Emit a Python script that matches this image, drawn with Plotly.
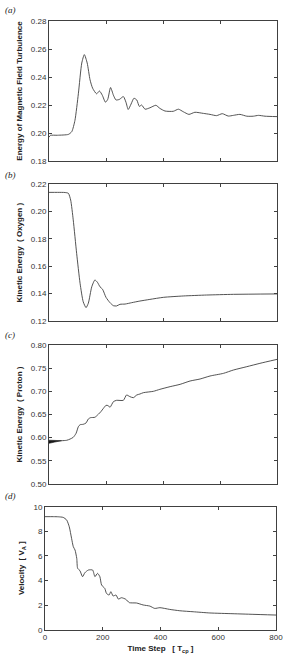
import plotly.graph_objects as go

# ---------------- data ----------------
a_t = [0, 5, 30, 68, 80, 91, 103, 115, 124, 134, 144, 153, 167, 177, 187, 198, 206, 216, 226, 235,
       247, 261, 270, 278, 288, 298, 308, 317, 325, 337, 354, 375, 389, 407, 436, 454, 471, 491,
       512, 542, 565, 588, 608, 629, 647, 670, 694, 717, 735, 758, 800]
a_v = [0.197, 0.1983, 0.1984, 0.199, 0.201, 0.209, 0.228, 0.250, 0.256, 0.250, 0.238, 0.232, 0.228,
       0.230, 0.227, 0.222, 0.224, 0.2325, 0.227, 0.2236, 0.224, 0.226, 0.222, 0.2168, 0.2207,
       0.2248, 0.2236, 0.219, 0.220, 0.217, 0.218, 0.2198, 0.2176, 0.2157, 0.2155, 0.217, 0.2152,
       0.2133, 0.2148, 0.214, 0.2133, 0.2124, 0.2138, 0.2121, 0.2126, 0.2133, 0.212, 0.212,
       0.2126, 0.212, 0.2117]

b_t = [0, 30, 56, 68, 76, 85, 97, 109, 120, 130, 138, 150, 161, 170, 179, 188, 200, 214, 226, 237,
       249, 267, 290, 319, 354, 401, 471, 553, 647, 800]
b_v = [0.2141, 0.2141, 0.2140, 0.2134, 0.2085, 0.194, 0.1695, 0.1476, 0.1341, 0.1298, 0.133, 0.145,
       0.150, 0.1483, 0.145, 0.1432, 0.1373, 0.1334, 0.1312, 0.131, 0.1322, 0.1324, 0.1334,
       0.1346, 0.1358, 0.1373, 0.1383, 0.139, 0.1395, 0.1398]

c_t = [0, 44, 62, 74, 85, 95, 103, 109, 120, 130, 138, 146, 161, 173, 182, 191, 200, 208, 214, 226,
       237, 261, 272, 284, 296, 308, 319, 331, 366, 389, 425, 460, 495, 530, 565, 612, 647, 694,
       740, 800]
c_v = [0.5935, 0.5935, 0.5943, 0.597, 0.6007, 0.6094, 0.6237, 0.628, 0.6288, 0.6317, 0.6403, 0.6432,
       0.644, 0.6504, 0.6561, 0.6633, 0.6698, 0.6691, 0.6655, 0.6777, 0.6806, 0.6806, 0.6921,
       0.6885, 0.6863, 0.6921, 0.6942, 0.6971, 0.700, 0.7043, 0.7101, 0.7151, 0.7223, 0.7266,
       0.7331, 0.7388, 0.746, 0.7532, 0.7604, 0.769]
# dark wedge at the start of panel (c)
c_wedge_t = [0, 20, 44]
c_wedge_hi = [0.5945, 0.5940, 0.5935]
c_wedge_lo = [0.5878, 0.5905, 0.5935]

d_t = [0, 30, 46, 63, 75, 84, 92, 98, 104, 110, 113, 121, 130, 138, 150, 165, 173, 182, 190, 196,
       207, 213, 222, 228, 236, 246, 254, 265, 280, 292, 317, 340, 363, 380, 398, 432, 467, 513,
       571, 651, 720, 800]
d_v = [9.19, 9.19, 9.18, 9.13, 8.92, 8.37, 7.43, 6.75, 6.48, 5.80, 4.99, 4.80, 4.31, 4.63, 4.85,
       4.85, 4.31, 4.58, 4.31, 3.63, 3.36, 2.95, 2.82, 3.09, 2.74, 2.82, 2.49, 2.60, 2.47, 2.20,
       2.17, 2.01, 1.92, 1.73, 1.79, 1.65, 1.54, 1.46, 1.36, 1.30, 1.25, 1.19]

x_ticks = [0, 200, 400, 600, 800]
panel_labels = ["(a)", "(b)", "(c)", "(d)"]
y_titles = ["Energy of Magnetic Field Turbulence", "Kinetic Energy  ( Oxygen )",
            "Kinetic Energy  ( Proton )", "Velocity  [ V<sub>A</sub> ]"]
x_title = "Time Step   [ T<sub>cp</sub> ]"

# ---------------- figure ----------------
W, H = 283, 656
LINE = "#404040"
fig = go.Figure()

def yd(top, bot):
    return [1 - bot / H, 1 - top / H]

panels = [
    dict(t=a_t, v=a_v, rng=[0.18, 0.28], dt=0.02, fmt=".2f", dom=yd(21, 161), xd=[49 / W, 277 / W]),
    dict(t=b_t, v=b_v, rng=[0.12, 0.22], dt=0.02, fmt=".2f", dom=yd(184.3, 321), xd=[49 / W, 277 / W]),
    dict(t=c_t, v=c_v, rng=[0.50, 0.80], dt=0.05, fmt=".2f", dom=yd(345, 484), xd=[49 / W, 277 / W]),
    dict(t=d_t, v=d_v, rng=[0, 10], dt=2, fmt="d", dom=yd(506.7, 629.7), xd=[45 / W, 276 / W]),
]

FONT = "Liberation Sans"
tickfont = dict(family=FONT, size=8, color="#333333")
titlefont = dict(family=FONT, size=8, color="#222222", weight="bold")

for i, p in enumerate(panels):
    n = "" if i == 0 else str(i + 1)
    xa, ya = "x" + n, "y" + n
    if i == 2:
        fig.add_trace(go.Scatter(
            x=c_wedge_t + c_wedge_t[::-1], y=c_wedge_hi + c_wedge_lo[::-1],
            fill="toself", fillcolor="#111111", line=dict(color="#111111", width=0.6),
            mode="lines", xaxis=xa, yaxis=ya, showlegend=False, hoverinfo="skip"))
    fig.add_trace(go.Scatter(
        x=p["t"], y=p["v"], mode="lines",
        line=dict(color=LINE, width=0.9, shape="spline", smoothing=0.6),
        xaxis=xa, yaxis=ya, showlegend=False))
    last = i == 3
    xax = dict(
        domain=p["xd"], anchor=ya, range=[0, 800], tickvals=x_ticks,
        showticklabels=last, ticks="inside", ticklen=3, tickcolor=LINE,
        showline=True, linecolor=LINE, linewidth=1, mirror="allticks",
        showgrid=False, zeroline=False, tickfont=tickfont, automargin=False,
        ticklabeloverflow="allow")
    if last:
        xax["title"] = dict(text=x_title, font=titlefont, standoff=4)
    fig.layout["xaxis" + n] = xax
    fig.layout["yaxis" + n] = dict(
        domain=p["dom"], anchor=xa, range=p["rng"], dtick=p["dt"], tick0=p["rng"][0],
        tickformat=p["fmt"], ticks="inside", ticklen=3, tickcolor=LINE,
        showline=True, linecolor=LINE, linewidth=1, mirror="allticks",
        showgrid=False, zeroline=False, tickfont=tickfont, automargin=False,
        ticklabeloverflow="allow",
        title=dict(text=y_titles[i], font=titlefont, standoff=7))

label_y = [10, 175, 335, 496]
for lab, ly in zip(panel_labels, label_y):
    fig.add_annotation(text=lab, xref="paper", yref="paper", x=3 / W, y=1 - ly / H,
                       xanchor="left", yanchor="middle", showarrow=False,
                       font=dict(family="Liberation Serif", size=9,
                                 color="#222222", style="italic"))

fig.update_layout(width=W, height=H, margin=dict(l=0, r=0, t=0, b=0),
                  paper_bgcolor="white", plot_bgcolor="white")
fig.write_html("out.html")
